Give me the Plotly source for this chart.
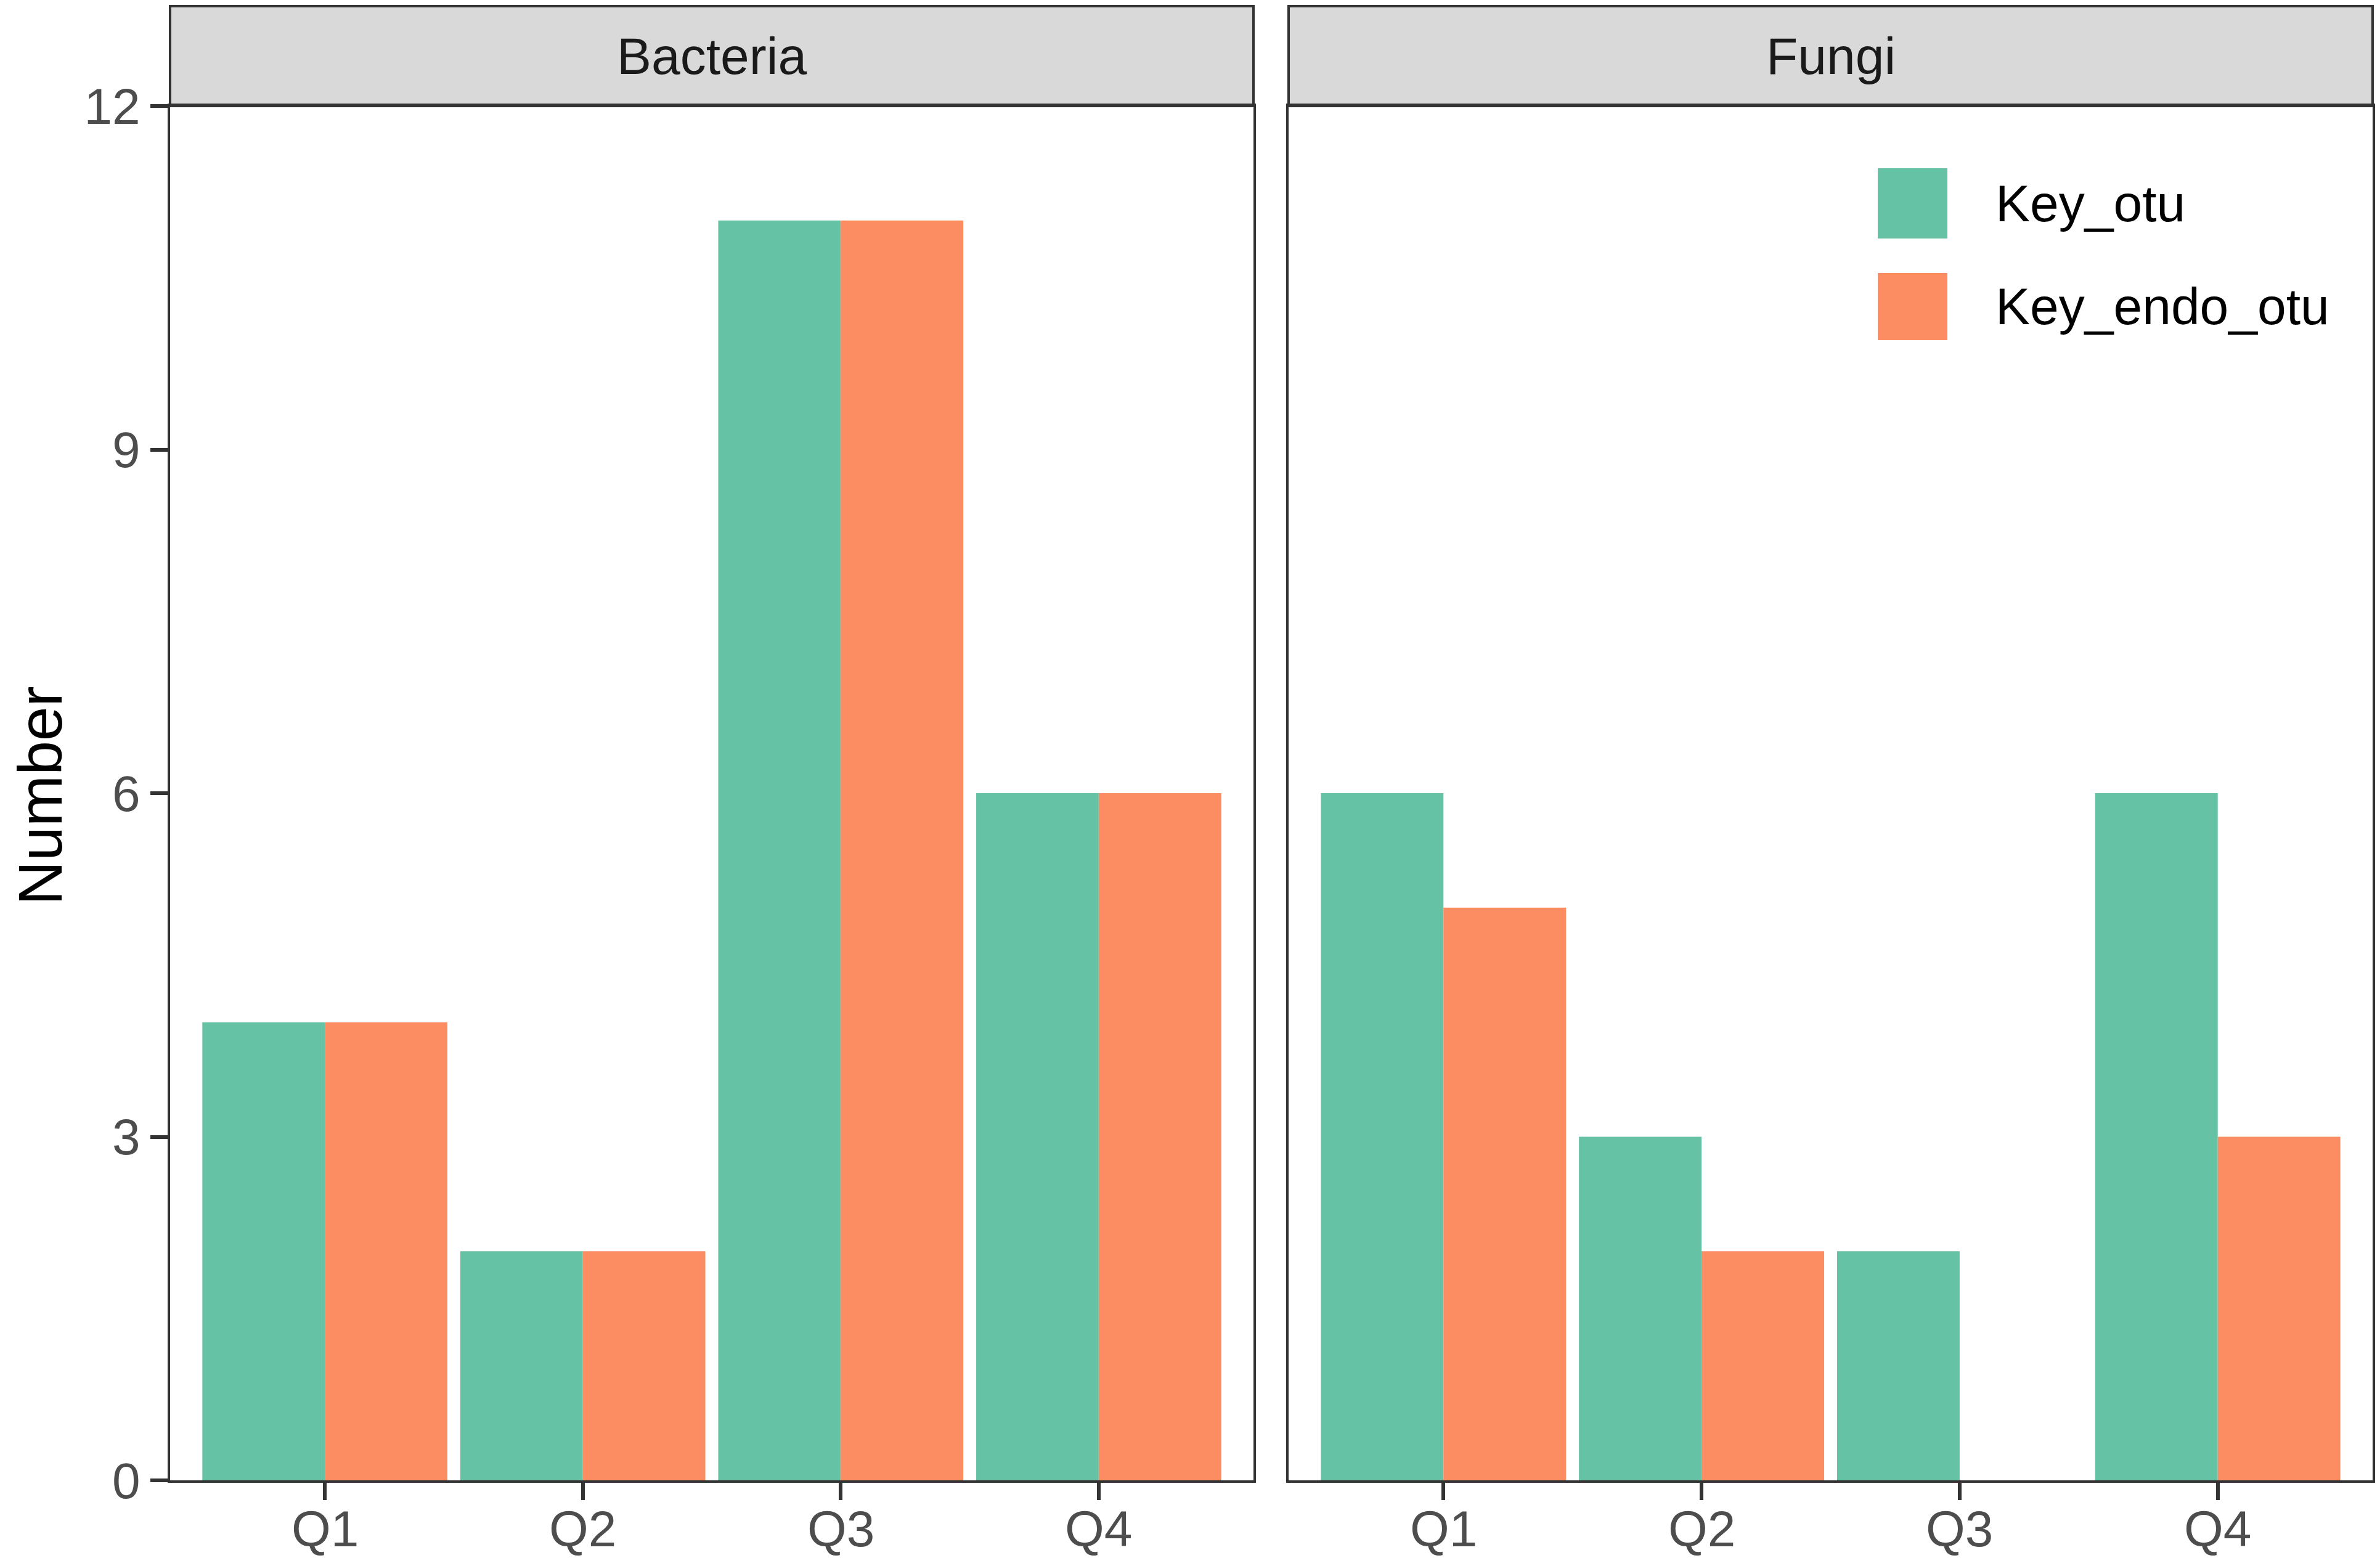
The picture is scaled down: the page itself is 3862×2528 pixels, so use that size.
import plotly.graph_objects as go

# data
quartis = ['Q1', 'Q2', 'Q3', 'Q4']
paineis = ['Bacteria', 'Fungi']
series = ['Key_otu', 'Key_endo_otu']
cores = {'Key_otu': '#66C2A5', 'Key_endo_otu': '#FC8D62'}

bact_key_otu = [4, 2, 11, 6]
bact_key_endo_otu = [4, 2, 11, 6]
fungi_key_otu = [6, 3, 2, 6]
fungi_key_endo_otu = [5, 2, 0, 3]

valores = {
    ('Bacteria', 'Key_otu'): bact_key_otu,
    ('Bacteria', 'Key_endo_otu'): bact_key_endo_otu,
    ('Fungi', 'Key_otu'): fungi_key_otu,
    ('Fungi', 'Key_endo_otu'): fungi_key_endo_otu,
}

# a pagina tem margem de 8px no body, entao a figura fica 8px menor
OFF = 8
W, H = 3862 - OFF, 2528 - OFF
FONTE = 'Liberation Sans, Arial, sans-serif'
LINHA = '#333333'

# posicoes em pixels da janela -> paper
def px_x(v):
    return (v - OFF) / W

def px_y(v):
    return 1 - (v - OFF) / H

dom_x = [[px_x(276), px_x(2034)], [px_x(2091), px_x(3850)]]
dom_y = [px_y(2402), px_y(172)]

fig = go.Figure()

eixos = ['x', 'x2']
for i, p in enumerate(paineis):
    for s in series:
        fig.add_trace(go.Bar(
            x=quartis, y=valores[(p, s)], name=s,
            marker=dict(color=cores[s], line=dict(width=0)),
            xaxis=eixos[i], yaxis='y' if i == 0 else 'y2',
            offsetgroup=s, showlegend=False,
        ))

eixo_comum = dict(
    showline=True, mirror=True, linecolor=LINHA, linewidth=4,
    showgrid=False, zeroline=False, automargin=False,
    tickfont=dict(family=FONTE, size=82, color='#4D4D4D'),
)
# rotulos do eixo x vao como anotacoes (o plotly os coloca baixo demais)
eixo_x = dict(range=[-0.6, 3.6], ticks='outside', ticklen=28, tickwidth=6,
              tickcolor=LINHA, showticklabels=False, **eixo_comum)

fig.update_layout(
    width=W, height=H,
    margin=dict(l=0, r=0, t=0, b=0),
    paper_bgcolor='white', plot_bgcolor='white',
    barmode='group', bargap=0.05, bargroupgap=0,
    showlegend=False,
    xaxis=dict(domain=dom_x[0], anchor='y', **eixo_x),
    xaxis2=dict(domain=dom_x[1], anchor='y2', **eixo_x),
    yaxis=dict(domain=dom_y, range=[0, 12], tickvals=[0, 3, 6, 9, 12], ticks='outside',
               ticklen=28, tickwidth=6, tickcolor=LINHA, anchor='x', **eixo_comum),
    yaxis2=dict(domain=dom_y, range=[0, 12], showticklabels=False, ticks='',
                anchor='x2', matches='y', **eixo_comum),
)

for i in range(len(paineis)):
    for q in quartis:
        fig.add_annotation(text=q, xref=eixos[i], yref='paper', x=q, y=px_y(2480),
                           showarrow=False, xanchor='center', yanchor='middle', borderpad=0,
                           font=dict(family=FONTE, size=82, color='#4D4D4D'))

# strips dos facets
for i, p in enumerate(paineis):
    fig.add_shape(type='rect', xref='paper', yref='paper',
                  x0=dom_x[i][0], x1=dom_x[i][1], y0=dom_y[1], y1=px_y(10),
                  fillcolor='#D9D9D9', line=dict(color=LINHA, width=4), layer='below')
    fig.add_annotation(text=p, xref='paper', yref='paper',
                       x=(dom_x[i][0] + dom_x[i][1]) / 2, y=px_y(91),
                       showarrow=False, xanchor='center', yanchor='middle',
                       font=dict(family=FONTE, size=84, color='#1A1A1A'))

# titulo do eixo y (encostado na borda esquerda da figura)
fig.add_annotation(text='Number', xref='paper', yref='paper', x=0, y=px_y(1291),
                   textangle=-90, showarrow=False, xanchor='left', yanchor='middle',
                   borderpad=0, font=dict(family=FONTE, size=100, color='black'))

# legenda manual
leg_y = [(273, 387), (443, 552)]
for s, (a, b) in zip(series, leg_y):
    fig.add_shape(type='rect', xref='paper', yref='paper',
                  x0=px_x(3047), x1=px_x(3160), y0=px_y(b), y1=px_y(a),
                  fillcolor=cores[s], line=dict(width=0))
    fig.add_annotation(text=s, xref='paper', yref='paper', x=px_x(3236), y=px_y((a + b) / 2),
                       showarrow=False, xanchor='left', yanchor='middle',
                       font=dict(family=FONTE, size=84, color='black'))

fig.write_html("out.html")
